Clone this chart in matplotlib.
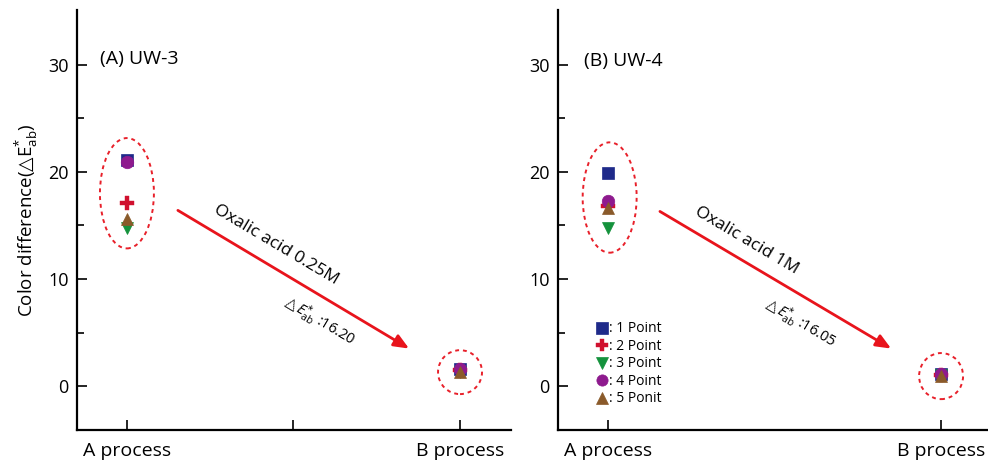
import matplotlib
matplotlib.use("Agg")
import matplotlib.pyplot as plt
from matplotlib.patches import Ellipse

plt.rcParams['font.family'] = ['Open Sans', 'DejaVu Sans']
plt.rcParams['mathtext.fontset'] = 'custom'
plt.rcParams['mathtext.rm'] = 'Open Sans'
plt.rcParams['mathtext.it'] = 'Open Sans:italic'
plt.rcParams['mathtext.sf'] = 'DejaVu Sans'
plt.rcParams['mathtext.fallback'] = 'stixsans'

# Data
processes = [0, 1]
xtick_labels_left = ["A process", "", "B process"]
series_labels = [": 1 Point", ": 2 Point", ": 3 Point", ": 4 Point", ": 5 Ponit"]
markers = ["s", "P", "v", "o", "^"]
colors = ["#1f2a8a", "#d0102e", "#14923c", "#8e1a8e", "#8a5a2a"]

uw3_A = [21.1, 17.1, 14.8, 20.9, 15.6]
uw3_B = [1.6, 1.5, 1.3, 1.6, 1.3]
uw4_A = [19.9, 16.8, 14.8, 17.3, 16.6]
uw4_B = [1.1, 1.0, 1.0, 1.1, 0.9]

panels = [
    dict(title="(A) UW-3", A=uw3_A, B=uw3_B, acid="Oxalic acid 0.25M", de="16.20",
         ellA=(0, 18.0, 0.162, 10.3), ellB=(1, 1.3, 0.132, 4.1),
         arrow=((0.153, 16.4), (0.847, 3.5)), acid_pos=(0.447, 13.2), de_pos=(0.58, 6.1),
         title_pos=(-0.08, 30.5)),
    dict(title="(B) UW-4", A=uw4_A, B=uw4_B, acid="Oxalic acid 1M", de="16.05",
         ellA=(0.005, 17.6, 0.162, 10.3), ellB=(1, 0.93, 0.132, 4.3),
         arrow=((0.156, 16.3), (0.85, 3.5)), acid_pos=(0.416, 13.6), de_pos=(0.58, 5.9),
         title_pos=(-0.072, 30.3)),
]

fig = plt.figure(figsize=(9.88, 4.63), dpi=100)
axes = [fig.add_axes([0.0779, 0.0713, 0.4393, 0.907]),
        fig.add_axes([0.5648, 0.0713, 0.4393, 0.907])]

for i, (ax, p) in enumerate(zip(axes, panels)):
    for k in range(5):
        ax.plot(processes, [p["A"][k], p["B"][k]], linestyle="none", marker=markers[k],
                color=colors[k], markersize=9 if markers[k] != "P" else 10,
                markeredgewidth=0.5 if markers[k] != "P" else 0.3, label=series_labels[k], zorder=3)
    for (cx, cy, w, h) in (p["ellA"], p["ellB"]):
        ax.add_patch(Ellipse((cx, cy), w, h, fill=False, edgecolor="#e8202a",
                             linestyle=(0, (2, 2)), linewidth=1.4, zorder=2))
    (x0, y0), (x1, y1) = p["arrow"]
    ax.annotate("", xy=(x1, y1), xytext=(x0, y0),
                arrowprops=dict(arrowstyle="-|>,head_length=0.9,head_width=0.38",
                                color="#e8141c", lw=2, shrinkA=0, shrinkB=0))
    ax.text(*p["acid_pos"], p["acid"], rotation=-30.7, rotation_mode="anchor",
            ha="center", va="center", fontsize=12.5)
    ax.text(*p["de_pos"], r"$\mathsf{△}\,\it{E}^{*}_{\rm{ab}}$" + " :" + p["de"], rotation=-30.7,
            rotation_mode="anchor", ha="center", va="center", fontsize=10.5)
    ax.text(*p["title_pos"], p["title"], ha="left", va="center", fontsize=14)

    ax.set_xlim(-0.15, 1.153)
    ax.set_ylim(-4.1, 35.1)
    ax.set_yticks([0, 10, 20, 30])
    ax.set_yticks([5, 15, 25], minor=True)
    if i == 0:
        ax.set_xticks([0, 0.5, 1])
        ax.set_xticklabels(xtick_labels_left)
        ax.set_ylabel(r"Color difference($\mathsf{△}\rm{E}^{*}_{\rm{ab}}$)", fontsize=13.5, labelpad=6)
    else:
        ax.set_xticks([0, 1])
        ax.set_xticklabels([xtick_labels_left[0], xtick_labels_left[2]])
        ax.legend(loc="upper left", bbox_to_anchor=(0.075, 0.275), frameon=False,
                  handlelength=0.6, handletextpad=0.2, labelspacing=0.18,
                  fontsize=10, borderpad=0, markerscale=0.9)
    for s in ("top", "right"):
        ax.spines[s].set_visible(False)
    for s in ("left", "bottom"):
        ax.spines[s].set_linewidth(1.6)
    ax.tick_params(axis="both", which="major", direction="in", length=7, width=1.2,
                   labelsize=13, pad=6)
    ax.tick_params(axis="both", which="minor", direction="in", length=5, width=1.2)
    ax.tick_params(axis="x", pad=9, labelsize=14)

fig.savefig("out.png", dpi=100)
